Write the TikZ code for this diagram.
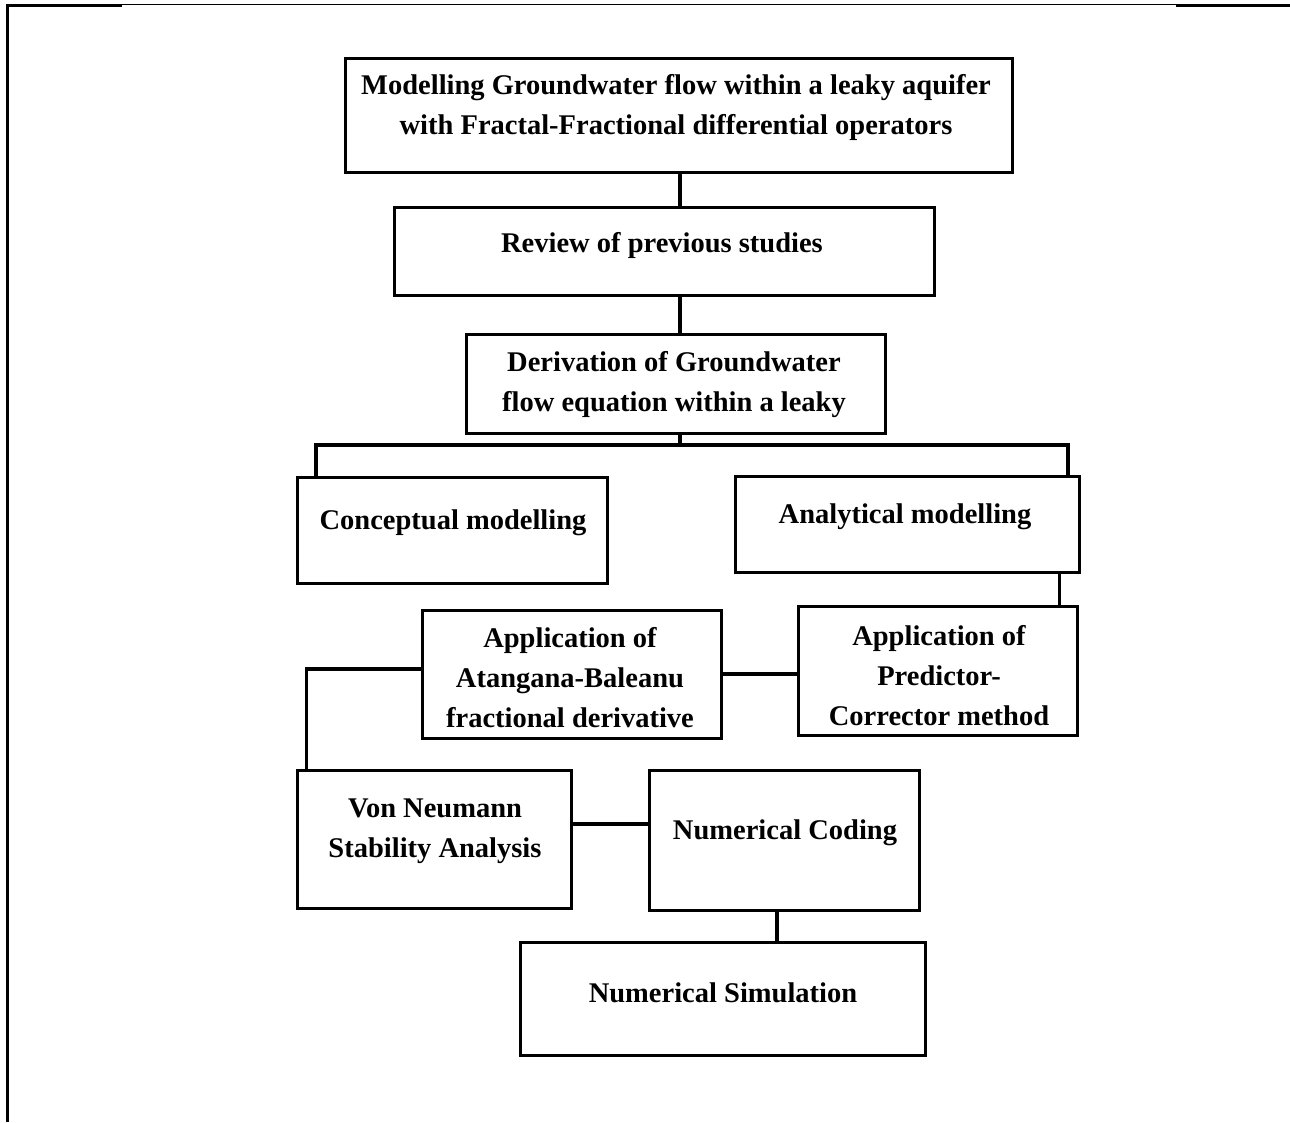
\documentclass[tikz,border=0pt]{standalone}
\usepackage{fontspec}
\setmainfont{Liberation Serif}
\begin{document}
\begin{tikzpicture}[x=1pt,y=-1pt,
  box/.style={draw,line width=3pt,rectangle,inner sep=0pt},
  txt/.style={font=\fontsize{28.5}{40}\selectfont\bfseries,align=center,inner sep=0pt,yshift=-3pt},
  conn/.style={line width=3.2pt}]
\useasboundingbox (0,0) rectangle (1290,1122);
% frame
\draw[line width=3pt] (7,1122) -- (7,5) -- (122,5);
\draw[line width=1.5pt] (122,4.5) -- (1176,4.5);
\draw[line width=3pt] (1176,5) -- (1290,5);
% boxes
\node[box,minimum width=667pt,minimum height=114pt] (top) at (678.5,115) {};
\node[box,minimum width=540pt,minimum height=88pt] (review) at (664,251) {};
\node[box,minimum width=419pt,minimum height=99pt] (deriv) at (675.5,383.5) {};
\node[box,minimum width=310pt,minimum height=106pt] (concept) at (452,530) {};
\node[box,minimum width=344pt,minimum height=96pt] (analyt) at (907,524) {};
\node[box,minimum width=299pt,minimum height=128pt] (atang) at (571.5,674) {};
\node[box,minimum width=279pt,minimum height=129pt] (pred) at (937.5,670.5) {};
\node[box,minimum width=274pt,minimum height=138pt] (vonn) at (434,839) {};
\node[box,minimum width=270pt,minimum height=140pt] (ncode) at (784,840) {};
\node[box,minimum width=405pt,minimum height=113pt] (nsim) at (722.5,998.5) {};
% texts
\node[txt] (ttop) at (676,104) {Modelling Groundwater flow within a leaky aquifer\\with Fractal-Fractional differential operators};
\node[txt] (treview) at (662,242) {Review of previous studies};
\node[txt] (tderiv) at (674,382) {Derivation of Groundwater\\flow equation within a leaky};
\node[txt] (tconcept) at (453,520) {Conceptual modelling};
\node[txt] (tanalyt) at (905,514) {Analytical modelling};
\node[txt] (tatang) at (570,675) {Application of\\Atangana-Baleanu\\fractional derivative};
\node[txt] (tpred) at (939,673) {Application of\\Predictor-\\Corrector method};
\node[txt] (tvonn) at (435,828) {Von Neumann\\Stability Analysis};
\node[txt] (tncode) at (785,830) {Numerical Coding};
\node[txt] (tnsim) at (723,990) {Numerical Simulation};
% connectors
\coordinate (bl) at (316,445);
\coordinate (br) at (1068,445);
\coordinate (vx) at (680,0);
\draw[conn] (top.south -| vx) -- (vx |- review.north);
\draw[conn] (vx |- review.south) -- (vx |- deriv.north);
\draw[conn] (vx |- deriv.south) -- (vx |- bl);
\draw[conn] (concept.north -| bl) -- (bl) -- (br) -- (br |- analyt.north);
\draw[conn] ([xshift=-21pt]analyt.south east) -- ([xshift=-21pt]analyt.south east |- pred.north);
\draw[conn] (atang.east) -- (atang.east -| pred.west);
\draw[conn] ([yshift=5pt]atang.west) -| ([xshift=11pt]vonn.north west);
\draw[conn] ([yshift=15pt]vonn.east) -- ([yshift=15pt]vonn.east -| ncode.west);
\draw[conn] ([xshift=-7pt]ncode.south) -- ([xshift=-7pt]ncode.south |- nsim.north);
\end{tikzpicture}
\end{document}
